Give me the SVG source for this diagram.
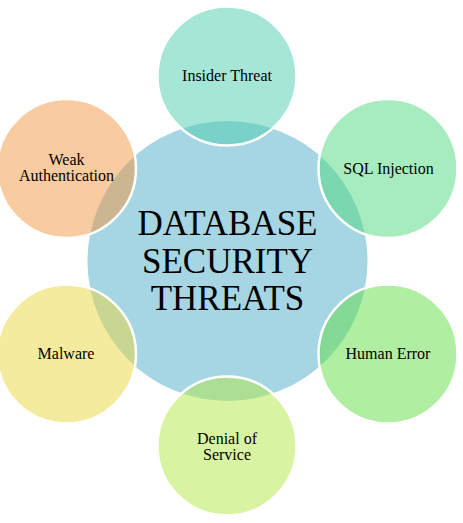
<svg xmlns="http://www.w3.org/2000/svg" width="463" height="523" viewBox="0 0 463 523">
<style>
.bg{fill:#ffffff}
.outer{fill-opacity:0.5;stroke:#ffffff;stroke-width:2.5}
.lbl{font-family:"Liberation Serif","Times New Roman",serif;font-size:16px;fill:#000000;text-anchor:middle}
.title{font-family:"Liberation Serif","Times New Roman",serif;font-size:35px;fill:#000000;text-anchor:middle}
</style>
<rect class="bg" x="0" y="0" width="463" height="523"/>
<g id="center">
<circle cx="227.5" cy="261" r="140" fill="#A6D5E3"/>
</g>
<g id="connectors"></g>
<g id="insider-threat">
<circle class="outer" cx="227" cy="76" r="69.5" fill="#4BCDAD"/>
<text class="lbl" x="227" y="81">Insider Threat</text>
</g>
<g id="sql-injection">
<circle class="outer" cx="388" cy="168.5" r="69.5" fill="#4DD97D"/>
<text class="lbl" x="388.5" y="174">SQL Injection</text>
</g>
<g id="human-error">
<circle class="outer" cx="388" cy="354" r="69.5" fill="#61DD45"/>
<text class="lbl" x="388" y="359">Human Error</text>
</g>
<g id="denial-of-service">
<circle class="outer" cx="227" cy="446" r="69.5" fill="#B1E947"/>
<text class="lbl" x="227" y="444">Denial of</text>
<text class="lbl" x="227" y="460">Service</text>
</g>
<g id="malware">
<circle class="outer" cx="66.5" cy="354" r="69.5" fill="#EBD73F"/>
<text class="lbl" x="66" y="359">Malware</text>
</g>
<g id="weak-authentication">
<circle class="outer" cx="66.5" cy="168.5" r="69.5" fill="#F19741"/>
<text class="lbl" x="66.5" y="165">Weak</text>
<text class="lbl" x="66.5" y="181">Authentication</text>
</g>
<g id="center-label">
<text class="title" x="227.5" y="235">DATABASE</text>
<text class="title" x="227.5" y="272.5">SECURITY</text>
<text class="title" x="227.5" y="310">THREATS</text>
</g>
</svg>
